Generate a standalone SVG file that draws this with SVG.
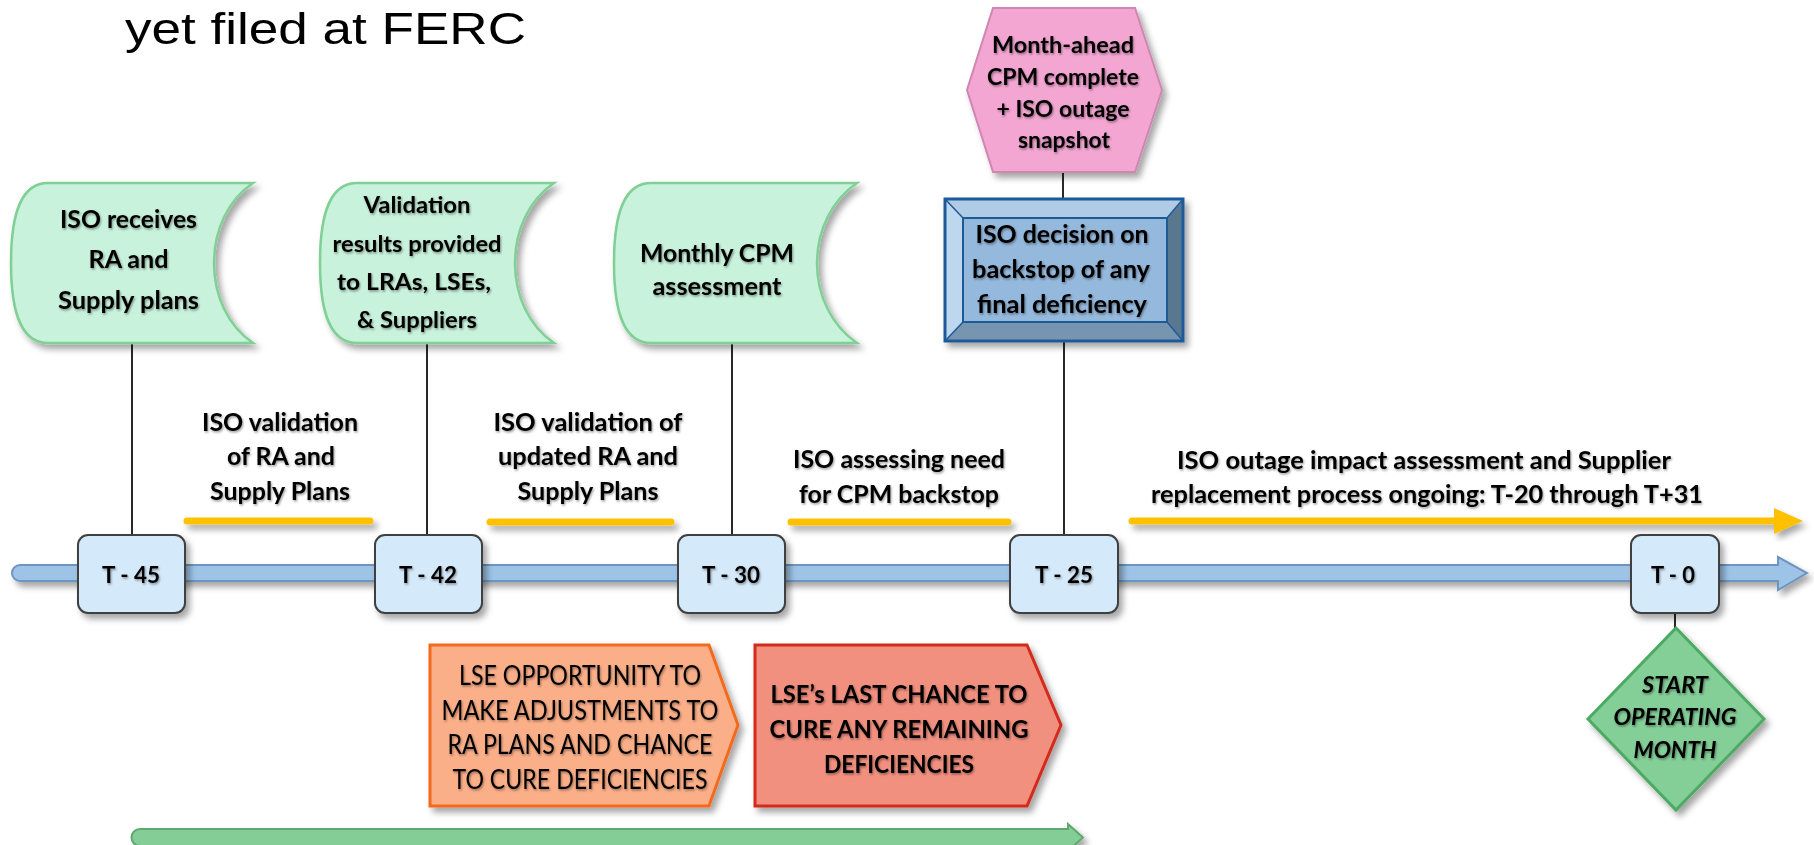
<svg xmlns="http://www.w3.org/2000/svg" width="1814" height="845" viewBox="0 0 1814 845">
<defs>
<filter id="sh" x="-10%" y="-10%" width="130%" height="140%">
<feDropShadow dx="4" dy="5" stdDeviation="3" flood-color="#000" flood-opacity="0.35"/>
</filter>
<filter id="ts" x="-5%" y="-20%" width="110%" height="150%">
<feDropShadow dx="1" dy="1.5" stdDeviation="1" flood-color="#000" flood-opacity="0.4"/>
</filter>
<style>
.b27{font-family:Lato,"Open Sans",sans-serif;font-weight:bold;font-size:25.5px;fill:#000;text-anchor:middle}
.b25{font-family:Lato,"Open Sans",sans-serif;font-weight:bold;font-size:23.5px;fill:#000;text-anchor:middle}
.r27{font-family:Lato,"Open Sans",sans-serif;font-weight:normal;font-size:26px;fill:#000;text-anchor:middle}
.bi25{font-family:Lato,"Open Sans",sans-serif;font-weight:bold;font-style:italic;font-size:23.5px;fill:#000;text-anchor:middle}
.store{fill:#C8F2DC;stroke:#80D096;stroke-width:2.5}
.ms{fill:#D4E9F9;stroke:#404040;stroke-width:2}
.conn{stroke:#111;stroke-width:1.8;fill:none}
.yl{stroke:#FFC000;stroke-width:7;stroke-linecap:round;fill:none}
</style>
</defs>
<rect width="1814" height="845" fill="#fff"/>

<text x="125" y="44" font-family="Liberation Sans, Arial, sans-serif" font-size="44" textLength="401" lengthAdjust="spacingAndGlyphs" fill="#000">yet filed at FERC</text>

<g id="connectors">
<line class="conn" x1="132" y1="342" x2="132" y2="536"/>
<line class="conn" x1="427" y1="342" x2="427" y2="536"/>
<line class="conn" x1="732" y1="342" x2="732" y2="536"/>
<line class="conn" x1="1063" y1="171" x2="1063" y2="199"/>
<line class="conn" x1="1064" y1="341" x2="1064" y2="536"/>
<line class="conn" x1="1675" y1="613" x2="1675" y2="629"/>
<g filter="url(#sh)">
<line class="yl" x1="187" y1="521" x2="370" y2="521"/>
<line class="yl" x1="490" y1="522" x2="671" y2="522"/>
<line class="yl" x1="791" y1="522" x2="1008" y2="522"/>
<line class="yl" x1="1132" y1="521" x2="1778" y2="521"/>
<polygon points="1774,508 1803,521 1774,534" fill="#FFC000"/>
</g>
</g>

<g id="timeline" filter="url(#sh)">
<path d="M20,565 L1778,565 L1778,557 L1807,573 L1778,590 L1778,581 L20,581 A8,8 0 0 1 20,565 Z" fill="#9DC3E6" stroke="#6E95C0" stroke-width="2"/>
</g>

<g id="bottom-arrow" filter="url(#sh)">
<path d="M140,829 L1068,829 L1068,824 L1083,837.5 L1068,851 L1068,846 L140,846 A8.5,8.5 0 0 1 140,829 Z" fill="#84CD97" stroke="#5EA870" stroke-width="2"/>
</g>

<g id="node-receives">
<path class="store" filter="url(#sh)" d="M48,183 L253,183 C228,200 214,230 214,263 C214,296 228,326 253,343 L48,343 C22,343 11,315 11,263 C11,211 22,183 48,183 Z"/>
<g filter="url(#ts)">
<text class="b27" x="128.5" y="228" textLength="137" lengthAdjust="spacingAndGlyphs">ISO receives</text>
<text class="b27" x="128.5" y="268" textLength="80" lengthAdjust="spacingAndGlyphs">RA and</text>
<text class="b27" x="128.5" y="309" textLength="141" lengthAdjust="spacingAndGlyphs">Supply plans</text>
</g>
</g>

<g id="node-validation-results">
<path class="store" filter="url(#sh)" d="M357,183 L554,183 C529,200 515,230 515,263 C515,296 529,326 554,343 L357,343 C331,343 320,315 320,263 C320,211 331,183 357,183 Z"/>
<g filter="url(#ts)">
<text class="b25" x="417" y="213" textLength="107" lengthAdjust="spacingAndGlyphs">Validation</text>
<text class="b25" x="417" y="252" textLength="169" lengthAdjust="spacingAndGlyphs">results provided</text>
<text class="b25" x="414" y="290" textLength="154" lengthAdjust="spacingAndGlyphs">to LRAs, LSEs,</text>
<text class="b25" x="417" y="328" textLength="120" lengthAdjust="spacingAndGlyphs">&amp; Suppliers</text>
</g>
</g>

<g id="node-monthly-cpm">
<path class="store" filter="url(#sh)" d="M651,183 L857,183 C832,200 817,230 817,263 C817,296 832,326 857,343 L651,343 C625,343 614,315 614,263 C614,211 625,183 651,183 Z"/>
<g filter="url(#ts)">
<text class="b27" x="717" y="262" textLength="154" lengthAdjust="spacingAndGlyphs">Monthly CPM</text>
<text class="b27" x="717" y="295" textLength="129" lengthAdjust="spacingAndGlyphs">assessment</text>
</g>
</g>

<g id="node-month-ahead">
<polygon filter="url(#sh)" points="993,8 1135,8 1162,90 1135,172 993,172 967,90" fill="#F4A6D3" stroke="#CF86B1" stroke-width="2"/>
<g filter="url(#ts)">
<text class="b25" x="1063" y="53" textLength="142" lengthAdjust="spacingAndGlyphs">Month-ahead</text>
<text class="b25" x="1063" y="85" textLength="152" lengthAdjust="spacingAndGlyphs">CPM complete</text>
<text class="b25" x="1063" y="117" textLength="133" lengthAdjust="spacingAndGlyphs">+ ISO outage</text>
<text class="b25" x="1064" y="148" textLength="92" lengthAdjust="spacingAndGlyphs">snapshot</text>
</g>
</g>

<g id="node-iso-decision">
<g filter="url(#sh)">
<rect x="945" y="199" width="238" height="142" fill="#95B9DC"/>
<polygon points="945,199 1183,199 1167,218 963,218" fill="#AFCBE5"/>
<polygon points="945,199 963,218 963,322 945,341" fill="#BDD7EE"/>
<polygon points="1183,199 1183,341 1167,322 1167,218" fill="#5A7790"/>
<polygon points="945,341 963,322 1167,322 1183,341" fill="#7795B0"/>
<line x1="945" y1="199" x2="963" y2="218" stroke="#1F5A98" stroke-width="1.5"/>
<line x1="1183" y1="199" x2="1167" y2="218" stroke="#1F5A98" stroke-width="1.5"/>
<line x1="945" y1="341" x2="963" y2="322" stroke="#1F5A98" stroke-width="1.5"/>
<line x1="1183" y1="341" x2="1167" y2="322" stroke="#1F5A98" stroke-width="1.5"/>
<rect x="963" y="218" width="204" height="104" fill="#95B9DC" stroke="#1F5A98" stroke-width="2"/>
<rect x="945" y="199" width="238" height="142" fill="none" stroke="#1F5A98" stroke-width="3"/>
</g>
<g filter="url(#ts)">
<text class="b27" x="1062" y="243" textLength="173" lengthAdjust="spacingAndGlyphs">ISO decision on</text>
<text class="b27" x="1061" y="278" textLength="178" lengthAdjust="spacingAndGlyphs">backstop of any</text>
<text class="b27" x="1062" y="313" textLength="170" lengthAdjust="spacingAndGlyphs">final deficiency</text>
</g>
</g>

<g id="label-validation" filter="url(#ts)">
<text class="b27" x="280" y="431" textLength="156" lengthAdjust="spacingAndGlyphs">ISO validation</text>
<text class="b27" x="281" y="465" textLength="108" lengthAdjust="spacingAndGlyphs">of RA and</text>
<text class="b27" x="280" y="500" textLength="140" lengthAdjust="spacingAndGlyphs">Supply Plans</text>
</g>

<g id="label-validation-updated" filter="url(#ts)">
<text class="b27" x="588" y="431" textLength="189" lengthAdjust="spacingAndGlyphs">ISO validation of</text>
<text class="b27" x="588" y="465" textLength="180" lengthAdjust="spacingAndGlyphs">updated RA and</text>
<text class="b27" x="588" y="500" textLength="141" lengthAdjust="spacingAndGlyphs">Supply Plans</text>
</g>

<g id="label-assessing" filter="url(#ts)">
<text class="b27" x="899" y="468" textLength="212" lengthAdjust="spacingAndGlyphs">ISO assessing need</text>
<text class="b27" x="899" y="503" textLength="200" lengthAdjust="spacingAndGlyphs">for CPM backstop</text>
</g>

<g id="label-outage" filter="url(#ts)">
<text class="b27" x="1424" y="469" textLength="494" lengthAdjust="spacingAndGlyphs">ISO outage impact assessment and Supplier</text>
<text class="b27" x="1427" y="503" textLength="552" lengthAdjust="spacingAndGlyphs">replacement process ongoing: T-20 through T+31</text>
</g>

<g id="m-t45">
<rect class="ms" filter="url(#sh)" x="78" y="535" width="107" height="78" rx="10"/>
<text class="b25" filter="url(#ts)" x="131" y="583" textLength="58" lengthAdjust="spacingAndGlyphs">T - 45</text>
</g>
<g id="m-t42">
<rect class="ms" filter="url(#sh)" x="375" y="535" width="107" height="78" rx="10"/>
<text class="b25" filter="url(#ts)" x="428" y="583" textLength="58" lengthAdjust="spacingAndGlyphs">T - 42</text>
</g>
<g id="m-t30">
<rect class="ms" filter="url(#sh)" x="678" y="535" width="107" height="78" rx="10"/>
<text class="b25" filter="url(#ts)" x="731" y="583" textLength="58" lengthAdjust="spacingAndGlyphs">T - 30</text>
</g>
<g id="m-t25">
<rect class="ms" filter="url(#sh)" x="1010" y="535" width="108" height="78" rx="10"/>
<text class="b25" filter="url(#ts)" x="1064" y="583" textLength="58" lengthAdjust="spacingAndGlyphs">T - 25</text>
</g>
<g id="m-t0">
<rect class="ms" filter="url(#sh)" x="1631" y="535" width="88" height="78" rx="10"/>
<text class="b25" filter="url(#ts)" x="1673" y="583" textLength="44" lengthAdjust="spacingAndGlyphs">T - 0</text>
</g>

<g id="lse-opportunity">
<polygon filter="url(#sh)" points="430,645 709,645 738,725 709,806 430,806" fill="#FBAF88" stroke="#F46A1F" stroke-width="3"/>
<g filter="url(#ts)">
<text class="r27" x="580" y="685" textLength="242" lengthAdjust="spacingAndGlyphs">LSE OPPORTUNITY TO</text>
<text class="r27" x="580" y="720" textLength="277" lengthAdjust="spacingAndGlyphs">MAKE ADJUSTMENTS TO</text>
<text class="r27" x="580" y="754" textLength="265" lengthAdjust="spacingAndGlyphs">RA PLANS AND CHANCE</text>
<text class="r27" x="580" y="789" textLength="255" lengthAdjust="spacingAndGlyphs">TO CURE DEFICIENCIES</text>
</g>
</g>

<g id="lse-last-chance">
<polygon filter="url(#sh)" points="755,645 1027,645 1061,725 1027,806 755,806" fill="#F2907F" stroke="#D42A1A" stroke-width="3"/>
<g filter="url(#ts)">
<text class="b27" x="899" y="703" textLength="257" lengthAdjust="spacingAndGlyphs">LSE’s LAST CHANCE TO</text>
<text class="b27" x="899" y="738" textLength="259" lengthAdjust="spacingAndGlyphs">CURE ANY REMAINING</text>
<text class="b27" x="899" y="773" textLength="150" lengthAdjust="spacingAndGlyphs">DEFICIENCIES</text>
</g>
</g>

<g id="start-month">
<polygon filter="url(#sh)" points="1676,628 1764,719 1676,810 1588,719" fill="#84CF98" stroke="#4DAA62" stroke-width="3"/>
<g filter="url(#ts)">
<text class="bi25" x="1675" y="693" textLength="66" lengthAdjust="spacingAndGlyphs">START</text>
<text class="bi25" x="1675" y="725" textLength="123" lengthAdjust="spacingAndGlyphs">OPERATING</text>
<text class="bi25" x="1675" y="758" textLength="83" lengthAdjust="spacingAndGlyphs">MONTH</text>
</g>
</g>
</svg>
